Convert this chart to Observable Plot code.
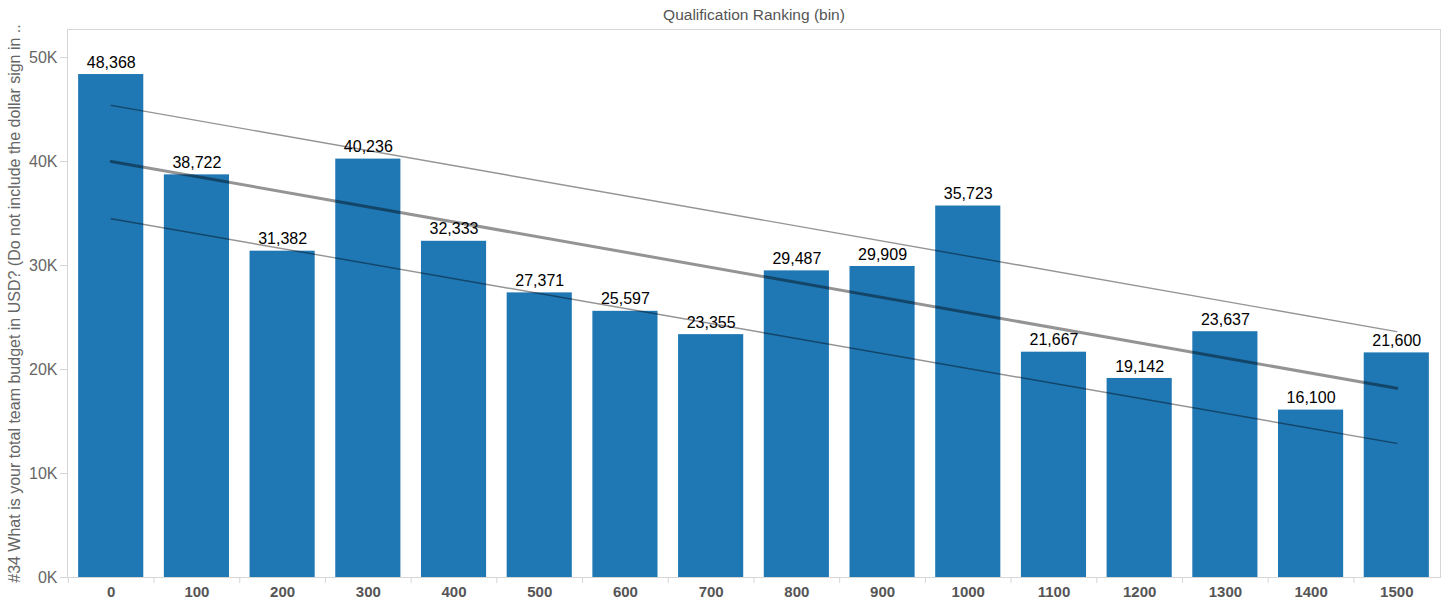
<!DOCTYPE html>
<html>
<head>
<meta charset="utf-8">
<script src="https://cdn.jsdelivr.net/npm/d3@7"></script>
<script src="https://cdn.jsdelivr.net/npm/@observablehq/plot@0.6"></script>
<style>
  html, body { margin: 0; padding: 0; background: #fff; }
  svg { display: block; }
</style>
</head>
<body>
<div id="chart"></div>
<script>
const categories = ["0","100","200","300","400","500","600","700","800","900","1000","1100","1200","1300","1400","1500"];
const budgets = [48368, 38722, 31382, 40236, 32333, 27371, 25597, 23355, 29487, 29909, 35723, 21667, 19142, 23637, 16100, 21600];
const yTicks = [0, 10000, 20000, 30000, 40000, 50000];
const trendX = ["0", "1500"];
const trendMid = [40000, 18200];
const trendUpper = [45400, 23650];
const trendLower = [34500, 12900];
const titleText = "Qualification Ranking (bin)";
const yLabel = "#34 What is your total team budget in USD? (Do not include the dollar sign in ..";

const bars = categories.map((c, i) => ({bin: c, value: budgets[i]}));
const trend = (vals, name) => trendX.map((x, i) => ({bin: x, value: vals[i], band: name}));
const mid = trend(trendMid, "mid");
const bands = [...trend(trendUpper, "upper"), ...trend(trendLower, "lower")];

const fmt = d3.format(",");
const font = "'Liberation Sans', Arial, sans-serif";

const chart = Plot.plot({
  width: 1448,
  height: 605,
  marginLeft: 67,
  marginRight: 8,
  marginTop: 29,
  marginBottom: 28,
  style: {fontFamily: font, fontSize: "16px", background: "#fff"},
  x: {domain: categories, paddingInner: 0.24, paddingOuter: 0.13, round: false},
  y: {domain: [0, 52700]},
  marks: [
    Plot.frame({stroke: "#d6d6d6"}),
    Plot.barY(bars, {x: "bin", y: "value", fill: "#1f77b4"}),
    Plot.line(bands, {x: "bin", y: "value", z: "band", stroke: "#000", strokeOpacity: 0.42, strokeWidth: 1.4}),
    Plot.line(mid, {x: "bin", y: "value", stroke: "#000", strokeOpacity: 0.42, strokeWidth: 3}),
    Plot.text(bars, {x: "bin", y: "value", text: d => fmt(d.value), dy: -12, fill: "#000", fontSize: 16}),
    Plot.axisY({ticks: yTicks, tickFormat: d => d / 1000 + "K", tickSize: 7, tickPadding: 3, stroke: "#d6d6d6", color: "#666", fontSize: 16,
      label: yLabel, labelAnchor: "center", labelArrow: "none", labelOffset: 59}),
    Plot.axisX({tickSize: 0, tickPadding: 9, color: "#555", fontWeight: "bold", fontSize: 15, label: null}),
    Plot.axisX({tickSize: 6, text: null, stroke: "#d6d6d6", dx: -42.9, label: null}),
    Plot.text([titleText], {frameAnchor: "top", lineAnchor: "middle", dy: -14, fill: "#555", fontSize: 15.5})
  ]
});
document.getElementById("chart").append(chart);
</script>
</body>
</html>
